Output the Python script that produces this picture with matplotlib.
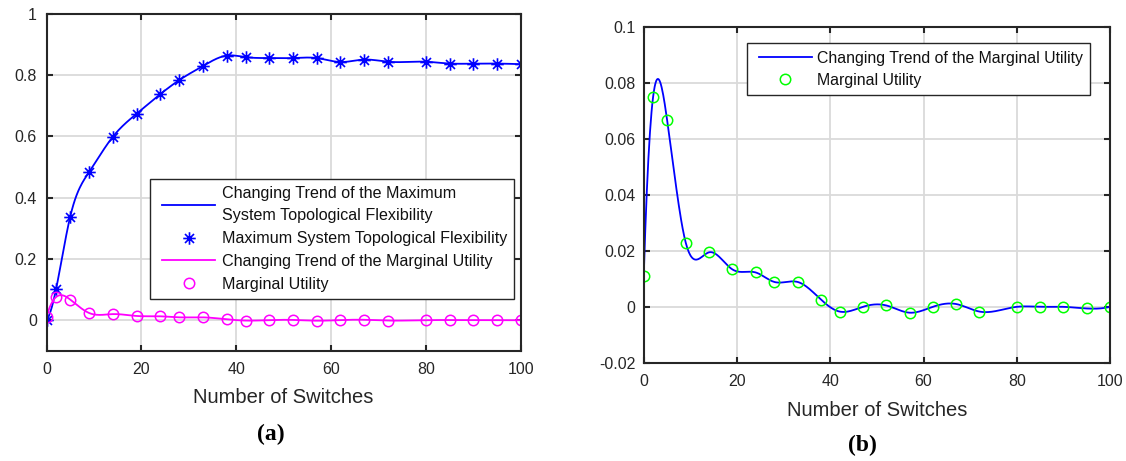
import numpy as np
import matplotlib
matplotlib.use("Agg")
import matplotlib.pyplot as plt
from matplotlib.path import Path
from matplotlib.lines import Line2D
from matplotlib.legend_handler import HandlerLine2D
from matplotlib.ticker import FuncFormatter

# ---------------- data ----------------
switches = [0, 2, 5, 9, 14, 19, 24, 28, 33, 38, 42, 47, 52, 57, 62, 67, 72, 80, 85, 90, 95, 100]
max_flex = [0.0, 0.100, 0.338, 0.484, 0.599, 0.674, 0.738, 0.784, 0.830, 0.864, 0.859,
            0.856, 0.856, 0.856, 0.843, 0.851, 0.844, 0.844, 0.838, 0.838, 0.838, 0.836]
marg_util = [0.011, 0.075, 0.067, 0.023, 0.0195, 0.0134, 0.0123, 0.0089, 0.0089, 0.0026,
             -0.0017, 0.0, 0.0005, -0.0021, 0.0, 0.001, -0.0017, 0.0, 0.0, 0.0, -0.0006, 0.0]

xticks = [0, 20, 40, 60, 80, 100]
yticks_a = [0, 0.2, 0.4, 0.6, 0.8, 1.0]
yticks_b = [-0.02, 0, 0.02, 0.04, 0.06, 0.08, 0.1]

lbl_trend_flex = "Changing Trend of the Maximum\nSystem Topological Flexibility"
lbl_flex = "Maximum System Topological Flexibility"
lbl_trend_mu = "Changing Trend of the Marginal Utility"
lbl_mu = "Marginal Utility"
xlabel = "Number of Switches"


def spline_curve(x, y, num=600):
    """not-a-knot cubic spline (like MATLAB's spline) through the data."""
    x = np.asarray(x, float)
    y = np.asarray(y, float)
    n = len(x)
    h = np.diff(x)
    A = np.zeros((n, n))
    r = np.zeros(n)
    A[0, 0], A[0, 1], A[0, 2] = h[1], -(h[0] + h[1]), h[0]
    A[-1, -3], A[-1, -2], A[-1, -1] = h[-1], -(h[-2] + h[-1]), h[-2]
    for i in range(1, n - 1):
        A[i, i - 1] = h[i - 1]
        A[i, i] = 2 * (h[i - 1] + h[i])
        A[i, i + 1] = h[i]
        r[i] = 3 * ((y[i + 1] - y[i]) / h[i] - (y[i] - y[i - 1]) / h[i - 1])
    c = np.linalg.solve(A, r)
    b = (y[1:] - y[:-1]) / h - h * (2 * c[:-1] + c[1:]) / 3
    d = (c[1:] - c[:-1]) / (3 * h)
    xs = np.linspace(x[0], x[-1], num)
    idx = np.clip(np.searchsorted(x, xs, side="right") - 1, 0, n - 2)
    t = xs - x[idx]
    ys = y[idx] + b[idx] * t + c[idx] * t ** 2 + d[idx] * t ** 3
    return xs, ys


# MATLAB-like asterisk marker
ast = Path([(-1, 0), (1, 0), (0, -1), (0, 1), (-0.72, -0.72), (0.72, 0.72), (-0.72, 0.72), (0.72, -0.72)],
           [Path.MOVETO, Path.LINETO] * 4)

plt.rcParams['font.family'] = ['Liberation Sans', 'DejaVu Sans']
dark = '#262626'
grid_c = '#dadada'

fig = plt.figure(figsize=(11.26, 4.61), dpi=100)
ax1 = fig.add_axes([0.0413, 0.2393, 0.4211, 0.7304])
ax2 = fig.add_axes([0.5717, 0.2132, 0.4141, 0.7275])


def style(ax, yticks, ylim, ypad):
    ax.set_xlim(0, 100)
    ax.set_ylim(*ylim)
    ax.set_xticks(xticks)
    ax.set_yticks(yticks)
    ax.xaxis.set_major_formatter(FuncFormatter(lambda v, p: "%g" % v))
    ax.yaxis.set_major_formatter(FuncFormatter(lambda v, p: "%g" % round(v, 6)))
    ax.grid(True, color=grid_c, linewidth=1.3)
    ax.set_axisbelow(True)
    for s in ax.spines.values():
        s.set_color(dark)
        s.set_linewidth(1.5)
    ax.tick_params(direction='in', length=4, width=1.5, colors=dark, labelsize=11.5,
                   top=True, right=True)
    ax.tick_params(axis='x', pad=8)
    ax.tick_params(axis='y', pad=ypad)


style(ax1, yticks_a, (-0.1, 1.0), 7)
style(ax2, yticks_b, (-0.02, 0.1), 6)

# ---- panel (a)
xs, ys = spline_curve(switches, max_flex)
ax1.plot(xs, ys, color='#0000ff', lw=1.3, label=lbl_trend_flex)
ax1.plot(switches, max_flex, ls='none', marker=ast, ms=9, mec='#0000ff', mfc='none', mew=1.2,
         label=lbl_flex)
xs, ys = spline_curve(switches, marg_util)
ax1.plot(xs, ys, color='#ff00ff', lw=1.3, label=lbl_trend_mu)
ax1.plot(switches, marg_util, ls='none', marker='o', ms=7.5, mec='#ff00ff', mfc='none', mew=1.1,
         label=lbl_mu)
ax1.set_xlabel(xlabel, fontsize=14.5, color=dark, labelpad=8)

leg1 = ax1.legend(loc='upper left', bbox_to_anchor=(150 / 1126, 1 - 179 / 461),
                  bbox_transform=fig.transFigure, borderaxespad=0, fontsize=11.6,
                  handlelength=3.62, handletextpad=0.42, borderpad=0.42, labelspacing=0.49,
                  fancybox=False, framealpha=1, edgecolor=dark,
                  handler_map={Line2D: HandlerLine2D(xpad=0.32)})
leg1.get_frame().set_linewidth(1.0)
for t in leg1.get_texts():
    t.set_color('#111111')
leg1.get_texts()[0].set_linespacing(1.63)

# ---- panel (b)
xs, ys = spline_curve(switches, marg_util)
ax2.plot(xs, ys, color='#0000ff', lw=1.3, label=lbl_trend_mu)
ax2.plot(switches, marg_util, ls='none', marker='o', ms=7.5, mec='#00ff00', mfc='none', mew=1.1,
         label=lbl_mu)
ax2.set_xlabel(xlabel, fontsize=14.5, color=dark, labelpad=8.6)

leg2 = ax2.legend(loc='upper left', bbox_to_anchor=(747 / 1126, 1 - 43.3 / 461),
                  bbox_transform=fig.transFigure, borderaxespad=0, fontsize=11.4,
                  handlelength=3.65, handletextpad=0.3, borderpad=0.46, labelspacing=0.47,
                  fancybox=False, framealpha=1, edgecolor=dark,
                  handler_map={Line2D: HandlerLine2D(xpad=0.28)})
leg2.get_frame().set_linewidth(1.0)
for t in leg2.get_texts():
    t.set_color('#111111')

fig.text(271 / 1126, 1 - 434 / 461, "(a)", ha='center', va='center', fontsize=17,
         fontweight='bold', family=['Liberation Serif', 'DejaVu Serif'], color='black')
fig.text(862 / 1126, 1 - 445 / 461, "(b)", ha='center', va='center', fontsize=17,
         fontweight='bold', family=['Liberation Serif', 'DejaVu Serif'], color='black')

fig.savefig("out.png", dpi=100)
